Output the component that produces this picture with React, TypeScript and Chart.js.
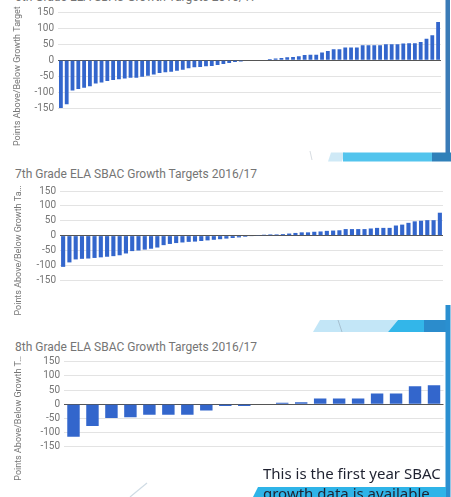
import React, { useEffect, useRef } from "react";
import { Chart, registerables } from "chart.js";

Chart.register(...registerables);

// ---- data ----
const grade6Values = [
  -150, -138, -95, -90, -86, -82, -73, -70, -65, -62, -60, -57, -55, -55, -52, -49,
  -45, -40, -38, -36, -33, -30, -25, -22, -21, -19, -18, -15, -12, -9, -6, -4, -2,
  0, 0, 0,
  4, 5, 7, 9, 10, 12, 16, 17, 17, 24, 29, 34, 34, 40, 40, 40, 47, 47, 47, 47,
  50, 50, 50, 52, 53, 53, 57, 67, 78, 120,
];
const grade7Values = [
  -105, -90, -80, -78, -77, -75, -73, -71, -69, -66, -60, -52, -50, -47, -44, -40,
  -32, -28, -25, -23, -21, -20, -18, -16, -14, -12, -10, -8, -6, -4, -2,
  1, 3, 4, 4, 5, 7, 9, 11, 11, 13, 14, 16, 17, 18, 22, 22, 22, 22, 24, 26, 26, 26,
  34, 37, 43, 48, 50, 52, 52, 77,
];
const grade8Values = [
  -115, -77, -49, -46, -37, -37, -37, -22, -6, -6, 0, 5, 7, 20, 20, 20, 38, 38, 63, 67,
];
const yTickLabels = [150, 100, 50, 0, -50, -100, -150];
const chartTitles = [
  "6th Grade ELA SBAC Growth Targets 2016/17",
  "7th Grade ELA SBAC Growth Targets 2016/17",
  "8th Grade ELA SBAC Growth Targets 2016/17",
];
const axisTitles = [
  "Points Above/Below Growth Target",
  "Points Above/Below Growth Ta\u2026",
  "Points Above/Below Growth T\u2026",
];
const noteLines = ["This is the first year SBAC", "growth data is available"];

const BAR_COLOR = "#3366cc";
const GRAY = "#757575";
const W = 451;

type PanelProps = {
  values: number[];
  axisTitle: string;
  top: number;
  height: number;
  padTop: number;
  padBottom: number;
  left: number;
  right: number;
  titlePad: number;
};

function BarPanel(p: PanelProps) {
  const ref = useRef<HTMLCanvasElement>(null);
  useEffect(() => {
    if (!ref.current) return;
    const chart = new Chart(ref.current, {
      type: "bar",
      data: {
        labels: p.values.map((_, i) => String(i + 1)),
        datasets: [
          {
            data: p.values,
            backgroundColor: BAR_COLOR,
            borderWidth: 0,
            barPercentage: 0.82,
            categoryPercentage: 0.8,
          },
        ],
      },
      options: {
        animation: false,
        responsive: false,
        maintainAspectRatio: false,
        layout: {
          padding: { top: p.padTop, bottom: p.padBottom, left: 0, right: W - p.right },
        },
        plugins: {
          legend: { display: false },
          tooltip: { enabled: false },
          title: { display: false },
        },
        scales: {
          x: { display: false },
          y: {
            min: -250,
            max: 150,
            afterFit: (s: any) => {
              s.width = p.left;
            },
            border: { display: false },
            grid: {
              drawTicks: false,
              lineWidth: 1,
              color: (ctx: any) => {
                const v = ctx.tick ? ctx.tick.value : 0;
                if (v === 0) return "#555555";
                if (!yTickLabels.includes(v)) return "rgba(0,0,0,0)";
                return "#e3e3e3";
              },
            },
            ticks: {
              stepSize: 50,
              autoSkip: false,
              padding: 4,
              color: GRAY,
              font: { family: "Roboto", size: 10 },
              callback: (v: any) => (yTickLabels.includes(Number(v)) ? String(v) : ""),
            },
            title: {
              display: true,
              text: p.axisTitle,
              color: GRAY,
              font: { family: "Roboto", size: 9 },
              padding: { top: p.titlePad, bottom: 0 },
            },
          },
        },
      },
    });
    return () => chart.destroy();
  }, []);
  return (
    <canvas
      ref={ref}
      width={W}
      height={p.height}
      style={{ position: "absolute", left: 0, top: p.top, width: W, height: p.height }}
    />
  );
}

const titleStyle = (top: number): React.CSSProperties => ({
  position: "absolute",
  left: 15,
  top,
  fontFamily: "Roboto",
  fontSize: 12,
  lineHeight: "14px",
  color: GRAY,
  whiteSpace: "nowrap",
});

export default function App() {
  useEffect(() => {
    document.body.style.margin = "0";
  }, []);
  return (
    <div
      style={{
        position: "fixed",
        left: 0,
        top: 0,
        width: W,
        height: 497,
        overflow: "hidden",
        background: "#ffffff",
      }}
    >
      <svg
        width={W}
        height={497}
        style={{ position: "absolute", left: 0, top: 0 }}
      >
        {/* top right vertical bar */}
        <rect x={445.5} y={0} width={4.5} height={153} fill="#3a7bb7" />
        {/* band between chart 1 and 2 */}
        <polygon points="331,152.5 345,152.5 342,161.5 328,161.5" fill="#cfe9f6" />
        <rect x={343} y={152.5} width={89} height={9} fill="#52c4ed" />
        <rect x={432} y={152.5} width={19} height={9} fill="#2f80b9" />
        <line x1={310} y1={151} x2={312} y2={160} stroke="#d8dde2" strokeWidth={1} />
        {/* band between chart 2 and 3 */}
        <polygon points="320,320 398,320 388,332 313,332" fill="#c3e6f7" />
        <line x1={338} y1={320} x2={342} y2={332} stroke="#9fb8c8" strokeWidth={0.8} />
        <polygon points="398,320 424,320 424,332 388,332" fill="#33b6e9" />
        <rect x={424} y={320} width={22} height={12} fill="#2b8ccc" />
        {/* right vertical bar for lower charts */}
        <rect x={445.5} y={305} width={5} height={192} fill="#2a8fd0" />
        {/* bottom band */}
        <polygon points="258,487 446,487 446,497 253,497" fill="#2eb4e8" />
        <line x1={130} y1={497} x2={147} y2={483} stroke="#cfdbe4" strokeWidth={1.2} />
      </svg>

      <div style={titleStyle(-10)}>{chartTitles[0]}</div>
      <BarPanel
        values={grade6Values}
        axisTitle={axisTitles[0]}
        top={0}
        height={150}
        padTop={12.3}
        padBottom={9.7}
        left={58}
        right={441}
        titlePad={12}
      />

      <div style={titleStyle(167.2)}>{chartTitles[1]}</div>
      <BarPanel
        values={grade7Values}
        axisTitle={axisTitles[1]}
        top={170}
        height={150}
        padTop={21}
        padBottom={9.4}
        left={60}
        right={443}
        titlePad={13}
      />

      <div style={titleStyle(339.6)}>{chartTitles[2]}</div>
      <BarPanel
        values={grade8Values}
        axisTitle={axisTitles[2]}
        top={340}
        height={145}
        padTop={21.7}
        padBottom={7.8}
        left={64}
        right={443.5}
        titlePad={13}
      />

      <div
        style={{
          position: "absolute",
          left: 263,
          top: 464,
          fontFamily: "'Noto Sans'",
          fontSize: 15,
          lineHeight: "19.5px",
          color: "#1f2230",
          whiteSpace: "nowrap",
        }}
      >
        <div>{noteLines[0]}</div>
        <div>{noteLines[1]}</div>
      </div>
    </div>
  );
}
